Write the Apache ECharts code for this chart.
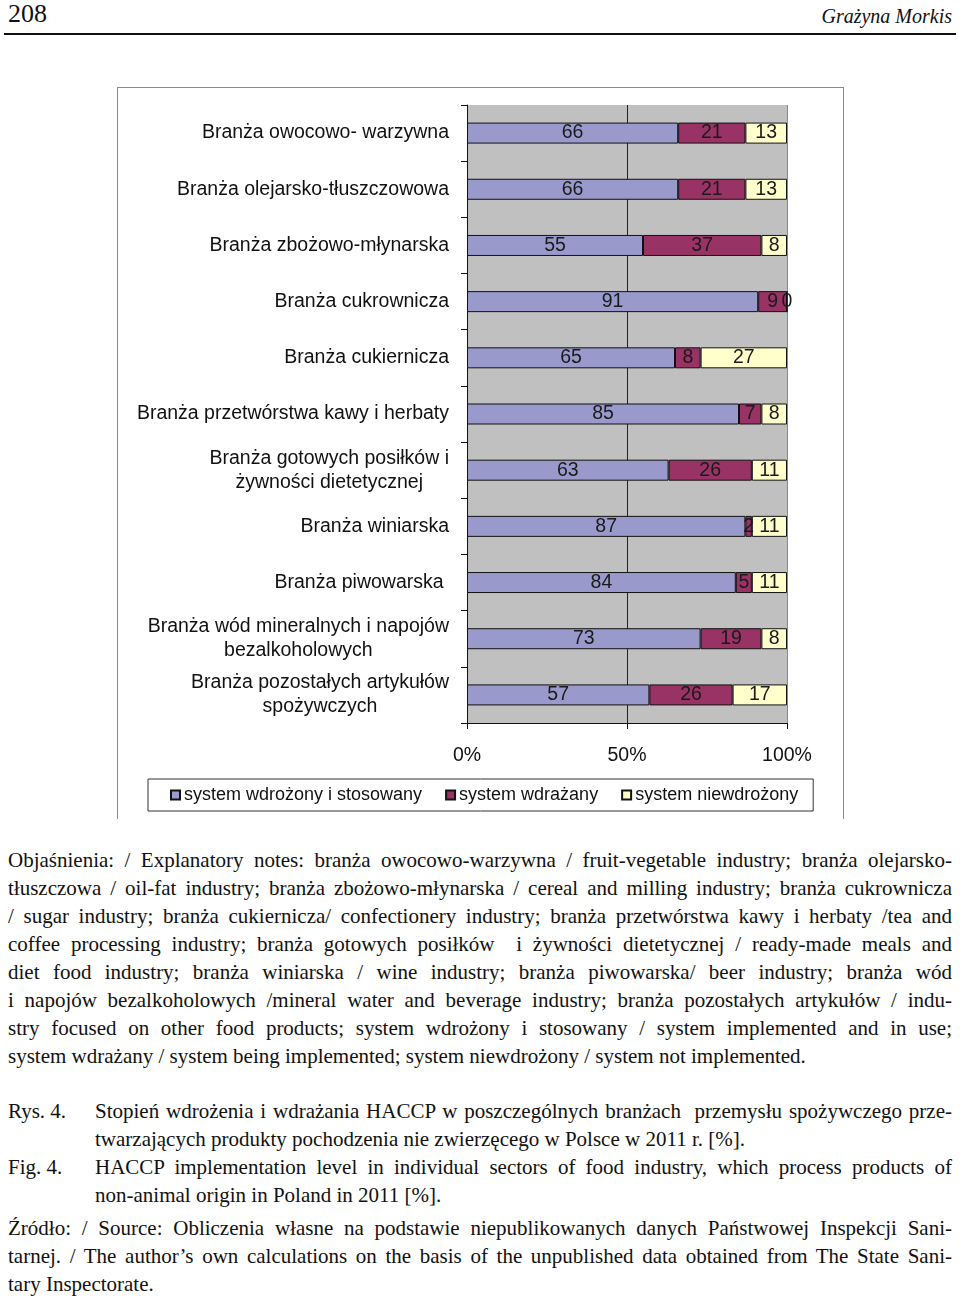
<!DOCTYPE html>
<html>
<head>
<meta charset="utf-8">
<script src="https://cdn.jsdelivr.net/npm/echarts@6/dist/echarts.min.js"></script>
<style>
  html, body { margin: 0; padding: 0; background: #fff; }
  body { width: 960px; height: 1299px; position: relative; overflow: hidden; }
  .serif { font-family: "Liberation Serif", "Times New Roman", serif; color: #111; }
  #hdrL { position: absolute; left: 8px; top: 0px; font-size: 26px; line-height: 28px; }
  #hdrR { position: absolute; right: 8px; top: 4px; font-size: 20px; line-height: 24px; font-style: italic; }
  #hdrLine { position: absolute; left: 4px; top: 33px; width: 952px; height: 2px; background: #111; }
  #frame { position: absolute; left: 117px; top: 87px; width: 725px; height: 731px;
           border-top: 1px solid #8a8a8a; border-left: 1px solid #8a8a8a; border-right: 1px solid #8a8a8a; }
  #chart { position: absolute; left: 0; top: 0; width: 960px; height: 830px; }
  .blk { position: absolute; font-size: 21px; line-height: 28px; }
  .ln { display: block; white-space: nowrap; }
  .j { text-align: justify; text-align-last: justify; white-space: normal; }
  .lbl { position: absolute; left: 8px; }
</style>
</head>
<body>
<div id="hdrL" class="serif">208</div>
<div id="hdrR" class="serif">Grażyna Morkis</div>
<div id="hdrLine"></div>
<div id="frame"></div>
<div id="chart"></div>

<div class="blk serif" style="left:8px; top:846px; width:944px;">
  <span class="ln j">Objaśnienia: / Explanatory notes: branża owocowo-warzywna / fruit-vegetable industry; branża olejarsko-</span>
  <span class="ln j">tłuszczowa / oil-fat industry; branża zbożowo-młynarska / cereal and milling industry; branża cukrownicza</span>
  <span class="ln j">/ sugar industry; branża cukiernicza/ confectionery industry; branża przetwórstwa kawy i herbaty /tea and</span>
  <span class="ln j">coffee processing industry; branża gotowych posiłków &nbsp;i żywności dietetycznej / ready-made meals and</span>
  <span class="ln j">diet food industry; branża winiarska / wine industry; branża piwowarska/ beer industry; branża wód</span>
  <span class="ln j">i napojów bezalkoholowych /mineral water and beverage industry; branża pozostałych artykułów / indu-</span>
  <span class="ln j">stry focused on other food products; system wdrożony i stosowany / system implemented and in use;</span>
  <span class="ln">system wdrażany / system being implemented; system niewdrożony / system not implemented.</span>
</div>

<div class="blk serif" style="left:8px; top:1097px; width:944px;">
  <div class="lbl" style="left:0; top:0;">Rys. 4.</div>
  <div class="lbl" style="left:0; top:56px;">Fig. 4.</div>
  <div style="position:absolute; left:87px; top:0; width:857px;">
    <span class="ln j">Stopień wdrożenia i wdrażania HACCP w poszczególnych branżach &nbsp;przemysłu spożywczego prze-</span>
    <span class="ln">twarzających produkty pochodzenia nie zwierzęcego w Polsce w 2011 r. [%].</span>
    <span class="ln j">HACCP implementation level in individual sectors of food industry, which process products of</span>
    <span class="ln">non-animal origin in Poland in 2011 [%].</span>
  </div>
</div>

<div class="blk serif" style="left:8px; top:1214px; width:944px;">
  <span class="ln j">Źródło: / Source: Obliczenia własne na podstawie niepublikowanych danych Państwowej Inspekcji Sani-</span>
  <span class="ln j">tarnej. / The author’s own calculations on the basis of the unpublished data obtained from The State Sani-</span>
  <span class="ln">tary Inspectorate.</span>
</div>

<script>
// ---- data ----
var categories = [
  "Branża owocowo- warzywna",
  "Branża olejarsko-tłuszczowowa",
  "Branża zbożowo-młynarska",
  "Branża cukrownicza",
  "Branża cukiernicza",
  "Branża przetwórstwa kawy i herbaty",
  "Branża gotowych posiłków i\nżywności dietetycznej",
  "Branża winiarska",
  "Branża piwowarska ",
  "Branża wód mineralnych i napojów\nbezalkoholowych",
  "Branża pozostałych artykułów\nspożywczych"
];
var seriesNames = ["system wdrożony i stosowany", "system wdrażany", "system niewdrożony"];
var implemented    = [66, 66, 55, 91, 65, 85, 63, 87, 84, 73, 57];
var implementing   = [21, 21, 37,  9,  8,  7, 26,  2,  5, 19, 26];
var notImplemented = [13, 13,  8,  0, 27,  8, 11, 11, 11,  8, 17];
var xTicks = [0, 50, 100];

var FONT = '"Liberation Sans", Arial, sans-serif';
var colors = ['#9999CC', '#993366', '#FFFFCC'];
var values = [implemented, implementing, notImplemented];

var chart = echarts.init(document.getElementById('chart'), null, { renderer: 'canvas' });
var series = seriesNames.map(function (name, i) {
  return {
    name: name,
    type: 'bar',
    stack: 'total',
    barWidth: 21,
    data: values[i],
    itemStyle: { color: colors[i], borderColor: '#111', borderWidth: 1 },
    label: {
      show: true, position: 'inside', color: '#1a1a1a',
      fontFamily: FONT, fontSize: 19.5
    },
    emphasis: { disabled: true }
  };
});

chart.setOption({
  animation: false,
  textStyle: { fontFamily: FONT },
  grid: { left: 467, top: 105, width: 320, height: 618, show: true,
          backgroundColor: '#C0C0C0', borderWidth: 0, containLabel: false },
  xAxis: {
    type: 'value', min: xTicks[0], max: xTicks[xTicks.length - 1], interval: 50,
    axisLine: { show: true, lineStyle: { color: '#111', width: 1 } },
    axisTick: { show: true, length: 6, lineStyle: { color: '#111' } },
    axisLabel: { formatter: '{value}%', color: '#111', fontSize: 19.5, fontFamily: FONT, margin: 23 },
    splitLine: { show: true, lineStyle: { color: ['#111', '#222', '#8a8a8a'], width: 1 } }
  },
  yAxis: {
    type: 'category', inverse: true, data: categories,
    axisLine: { show: true, lineStyle: { color: '#111', width: 1 } },
    axisTick: { show: true, length: 6, lineStyle: { color: '#111' } },
    axisLabel: {
      margin: 18, color: '#111', fontSize: 19.5, fontFamily: FONT,
      formatter: function (v) {
        return v.split('\n').map(function (s) { return '{c|' + s + '}'; }).join('\n');
      },
      rich: { c: { align: 'center', fontSize: 19.5, lineHeight: 24, color: '#111', fontFamily: FONT } }
    },
    splitLine: { show: false }
  },
  legend: {
    data: seriesNames, left: 148, top: 779, orient: 'horizontal',
    icon: 'rect', itemWidth: 9, itemHeight: 9, itemGap: 23,
    padding: [7, 15, 7, 22], borderColor: '#333', borderWidth: 1,
    textStyle: { fontFamily: FONT, fontSize: 18, color: '#111', padding: [0, 0, 0, -1] },
    selectedMode: false
  },
  series: series
});

// keep justified lines on a single line
document.querySelectorAll('.ln.j').forEach(function (el) {
  var w = el.parentNode.clientWidth;
  var probe = document.createElement('span');
  probe.style.whiteSpace = 'nowrap';
  probe.style.font = getComputedStyle(el).font;
  probe.style.position = 'absolute';
  probe.style.visibility = 'hidden';
  probe.innerHTML = el.innerHTML;
  document.body.appendChild(probe);
  var nw = probe.getBoundingClientRect().width;
  document.body.removeChild(probe);
  if (nw > w) {
    el.style.whiteSpace = 'nowrap';
    el.style.textAlign = 'left';
    el.style.textAlignLast = 'left';
    el.style.transformOrigin = '0 0';
    el.style.transform = 'scaleX(' + (w / nw) + ')';
  }
});
</script>
</body>
</html>
